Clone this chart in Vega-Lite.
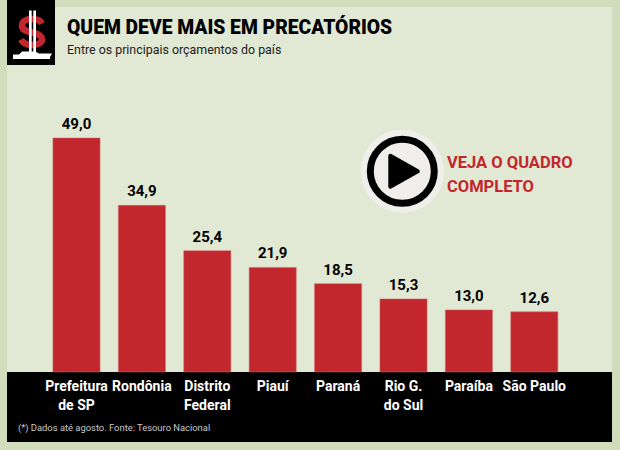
{
"$schema":"https://vega.github.io/schema/vega-lite/v6.json",
"width":605,"height":435,
"autosize":{"type":"none"},
"padding":{"left":7,"top":7,"right":8,"bottom":8},
"background":"#d0dcbb",
"config":{"locale":{"number":{"decimal":",","thousands":".","grouping":[3],"currency":["R$",""]}},"view":{"fill":"#e1e8d3","stroke":null}},
"title":{"text":"QUEM DEVE MAIS EM PRECATÓRIOS","subtitle":"Entre os principais orçamentos do país","anchor":"start","frame":"group","dx":60,"offset":-56,"font":"Roboto","fontSize":19.3,"fontWeight":900,"color":"#000000","subtitleFont":"Roboto","subtitleFontSize":12.4,"subtitleColor":"#222222","subtitlePadding":5},
"data":{"values":[
{"local":"Prefeitura de SP","valor":49.0},
{"local":"Rondônia","valor":34.9},
{"local":"Distrito Federal","valor":25.4},
{"local":"Piauí","valor":21.9},
{"local":"Paraná","valor":18.5},
{"local":"Rio G. do Sul","valor":15.3},
{"local":"Paraíba","valor":13.0},
{"local":"São Paulo","valor":12.6}]},
"encoding":{
"x":{"field":"local","type":"nominal","sort":null,"title":null,
"scale":{"domain":["Prefeitura de SP","Rondônia","Distrito Federal","Piauí","Paraná","Rio G. do Sul","Paraíba","São Paulo"],"range":[36.8,560],"paddingInner":0.28,"paddingOuter":0.14},
"axis":{"domain":false,"ticks":false,"grid":false,"labelAngle":0,"labelColor":"#ffffff","labelFont":"Roboto","labelFontWeight":"bold","labelFontSize":14,"labelLineHeight":19,"labelBaseline":"top","labelPadding":-63,"labelOverlap":false,"labelBound":false,"labelFlush":false,"labelLimit":0,"zindex":2,
"labelExpr":"datum.label=='Prefeitura de SP'?['Prefeitura','de SP']:datum.label=='Distrito Federal'?['Distrito','Federal']:datum.label=='Rio G. do Sul'?['Rio G.','do Sul']:datum.label"}},
"y":{"field":"valor","type":"quantitative","title":null,"scale":{"domain":[-14.66,76.43],"nice":false,"zero":false},"axis":null}
},
"layer":[
{"transform":[{"filter":"datum.local=='Paraná'"}],"mark":{"type":"rect","color":"#000000"},"encoding":{"x":{},"y":{"datum":0},"y2":{"datum":-14.66}}},
{"mark":{"type":"bar","color":"#c1272d","stroke":"#d2666a","strokeWidth":0.5},"encoding":{"y":{"field":"valor","type":"quantitative","stack":null}}},
{"mark":{"type":"text","baseline":"bottom","dy":-6,"font":"Roboto","fontWeight":"bold","fontSize":15,"color":"#000000"},"encoding":{"text":{"field":"valor","type":"quantitative","format":".1f"}}},
{"transform":[{"filter":"datum.local=='Prefeitura de SP'"}],"mark":{"type":"point","filled":true,"opacity":1,"size":4,"strokeWidth":0,"color":"#000000","xOffset":-45.5,"shape":"M-24,-32.5H24V32.5H-24Z"},"encoding":{"y":{"datum":71.09}}},
{"transform":[{"filter":"datum.local=='Prefeitura de SP'"}],"mark":{"type":"point","filled":false,"opacity":1,"size":4,"strokeWidth":6.5,"color":"#c1272d","xOffset":-45.5,"shape":"M11,-9C9,-13 5,-13.5 1,-13.5C-5,-13.5 -9,-11 -9,-7C-9,-2 -4,-1 1,0C6,1 11,3 11,7C11,10.5 6,12.5 1,12.5C-4,12.5 -8,11 -10,7"},"encoding":{"y":{"datum":71.09}}},
{"transform":[{"filter":"datum.local=='Prefeitura de SP'"}],"mark":{"type":"point","filled":true,"opacity":1,"size":4,"strokeWidth":0,"color":"#ffffff","xOffset":-45.5,"shape":"M-2,-22H0.7V19.5H-2ZM2.3,-22H5V19.5H2.3ZM-18,26.5V22H-12L-9,19H4L8,21H21L19,24.5V26.5Z"},"encoding":{"y":{"datum":71.09}}},
{"transform":[{"filter":"datum.local=='Rio G. do Sul'"}],"mark":{"type":"point","filled":true,"opacity":1,"size":6956,"strokeWidth":0,"color":"#f0eeea","xOffset":-1.2,"shape":"circle"},"encoding":{"y":{"datum":42.03}}},
{"transform":[{"filter":"datum.local=='Rio G. do Sul'"}],"mark":{"type":"point","filled":false,"opacity":1,"size":4096,"strokeWidth":7,"color":"#000000","xOffset":-1.2,"shape":"circle"},"encoding":{"y":{"datum":42.03}}},
{"transform":[{"filter":"datum.local=='Rio G. do Sul'"}],"mark":{"type":"point","filled":true,"opacity":1,"size":4,"fill":"#000000","stroke":"#000000","strokeWidth":4,"strokeJoin":"round","xOffset":-1.2,"shape":"M-12,-15.5L15.5,0L-12,15.5Z"},"encoding":{"y":{"datum":42.03}}},
{"transform":[{"filter":"datum.local=='Rio G. do Sul'"}],"mark":{"type":"text","text":["VEJA O QUADRO","COMPLETO"],"align":"left","baseline":"alphabetic","dx":43.5,"dy":1,"lineHeight":24,"font":"Roboto","fontWeight":"bold","fontSize":16.5,"color":"#c1272d"},"encoding":{"y":{"datum":42.93}}},
{"transform":[{"filter":"datum.local=='Prefeitura de SP'"}],"mark":{"type":"text","text":"(*) Dados até agosto. Fonte: Tesouro Nacional","align":"left","baseline":"alphabetic","dx":-58.5,"font":"Roboto","fontSize":9.4,"color":"#c9c9c9"},"encoding":{"y":{"datum":-12.46}}}
]
}
